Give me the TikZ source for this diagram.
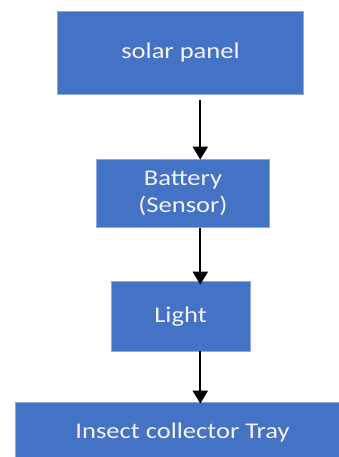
\documentclass[tikz,border=0pt]{standalone}
\usepackage{fontspec}
\setmainfont{Carlito}[FakeStretch=1.18]
\usetikzlibrary{arrows.meta,calc}
\definecolor{boxblue}{HTML}{4472C4}
\definecolor{boxedge}{HTML}{8EA9DB}
\definecolor{txt}{HTML}{F4F4F4}
\begin{document}
\begin{tikzpicture}[x=1pt,y=-1pt,
  box/.style={draw=boxedge, line width=0.8pt, fill=boxblue, text=txt, align=center,
    inner sep=0pt, font=\fontsize{22.5}{26.5}\selectfont},
  arr/.style={line width=2.3pt, -{Triangle[width=15pt,length=13pt]}}]
\useasboundingbox (0,0) rectangle (338,457);
\node[box, minimum width=246pt, minimum height=83.5pt] (solar) at (180.5,52.75) {solar panel};
\node[box, minimum width=172.6pt, minimum height=68.5pt] (batt) at (183,193.25) {Battery\\(Sensor)};
\node[box, minimum width=139pt, minimum height=69.7pt] (light) at (180.5,316.15) {Light};
\node[box, minimum width=334pt, minimum height=59pt] (tray) at (182.5,432) {Insect collector Tray};
\coordinate (axis) at (200.3,0);
\draw[arr, shorten <=5.5pt, shorten >=-1pt] (solar.south -| axis) -- (batt.north -| axis);
\draw[arr, shorten >=-3.7pt] (batt.south -| axis) -- (light.north -| axis);
\draw[arr, shorten >=-1.5pt] (light.south -| axis) -- (tray.north -| axis);
\end{tikzpicture}
\end{document}
